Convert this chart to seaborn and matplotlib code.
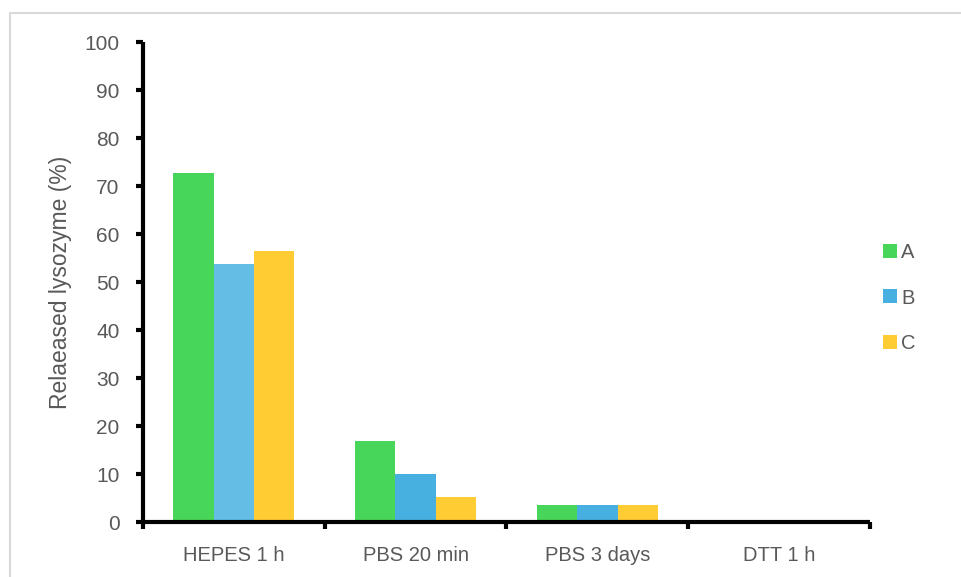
import matplotlib
matplotlib.use("Agg")
import matplotlib.pyplot as plt
from matplotlib.lines import Line2D
import seaborn as sns
import pandas as pd

# Release conditions and measured lysozyme release per formulation
conditions = ["HEPES 1 h", "PBS 20 min", "PBS 3 days", "DTT 1 h"]
series_a = [72.8, 16.9, 3.6, 0.0]
series_b = [53.8, 9.9, 3.6, 0.0]
series_c = [56.4, 5.2, 3.6, 0.0]
series_names = ["A", "B", "C"]
y_ticks = [0, 10, 20, 30, 40, 50, 60, 70, 80, 90, 100]

palette = {"A": "#47D65A", "B": "#47B0E0", "C": "#FFCD33"}
hepes_b_color = "#63BDE5"
text_gray = "#595959"

df = pd.DataFrame({
    "condition": conditions * 3,
    "series": [s for s in series_names for _ in conditions],
    "value": series_a + series_b + series_c,
})

sns.set_theme(style="white")
plt.rcParams["font.family"] = ["Liberation Sans", "DejaVu Sans"]

fig = plt.figure(figsize=(9.62, 5.77), dpi=100)
ax = fig.add_axes([143 / 962, 1 - 522 / 577, (870 - 143) / 962, 480 / 577])

sns.barplot(data=df, x="condition", y="value", hue="series", order=conditions,
            hue_order=series_names, palette=palette, width=0.667,
            saturation=1, errorbar=None, legend=False, ax=ax, linewidth=0)

# the B bar of the first group uses a lighter shade
for patch in ax.patches:
    x0 = patch.get_x()
    if -0.5 < x0 < 0.5 and abs(patch.get_height() - series_b[0]) < 1e-9:
        patch.set_facecolor(hepes_b_color)

ax.set_xlim(-0.5, len(conditions) - 0.5)
ax.set_ylim(0, 100)
ax.set_yticks(y_ticks)
ax.set_yticklabels([str(t) for t in y_ticks])
ax.set_xticks([i - 0.5 for i in range(len(conditions) + 1)], minor=False)
ax.set_xticklabels([])
ax.set_xticks(range(len(conditions)), minor=True)
ax.set_xticklabels(conditions, minor=True)
ax.tick_params(axis="x", which="major", direction="out", length=5, width=3,
               color="black", bottom=True)
ax.tick_params(axis="x", which="minor", length=0, labelsize=14.5,
               labelcolor=text_gray, pad=17)
ax.tick_params(axis="y", direction="out", length=5, width=3, color="black",
               left=True, labelsize=15, labelcolor=text_gray, pad=12)

for side in ["top", "right"]:
    ax.spines[side].set_visible(False)
for side in ["left", "bottom"]:
    ax.spines[side].set_linewidth(3)
    ax.spines[side].set_color("black")
    ax.spines[side].set_capstyle("butt")

ax.set_xlabel("")
ax.set_ylabel("Relaeased lysozyme (%)", fontsize=16.5, color=text_gray, labelpad=9)

handles = [Line2D([0], [0], marker="s", linestyle="", markersize=10,
                  markerfacecolor=palette[s], markeredgewidth=0) for s in series_names]
leg = fig.legend(handles, series_names, loc="center left",
                 bbox_to_anchor=(862 / 962, 1 - 298 / 577), frameon=False,
                 fontsize=14.5, labelspacing=1.3, handletextpad=0.05,
                 handlelength=1.0)
for t in leg.get_texts():
    t.set_color(text_gray)

# light frame around the chart area
fig.add_artist(Line2D([10 / 962, 10 / 962], [0, 1 - 12.5 / 577],
                      transform=fig.transFigure, color="#D9D9D9", linewidth=1.5))
fig.add_artist(Line2D([10 / 962, 1], [1 - 12.5 / 577, 1 - 12.5 / 577],
                      transform=fig.transFigure, color="#D9D9D9", linewidth=1.5))

fig.savefig("out.png", dpi=100)
